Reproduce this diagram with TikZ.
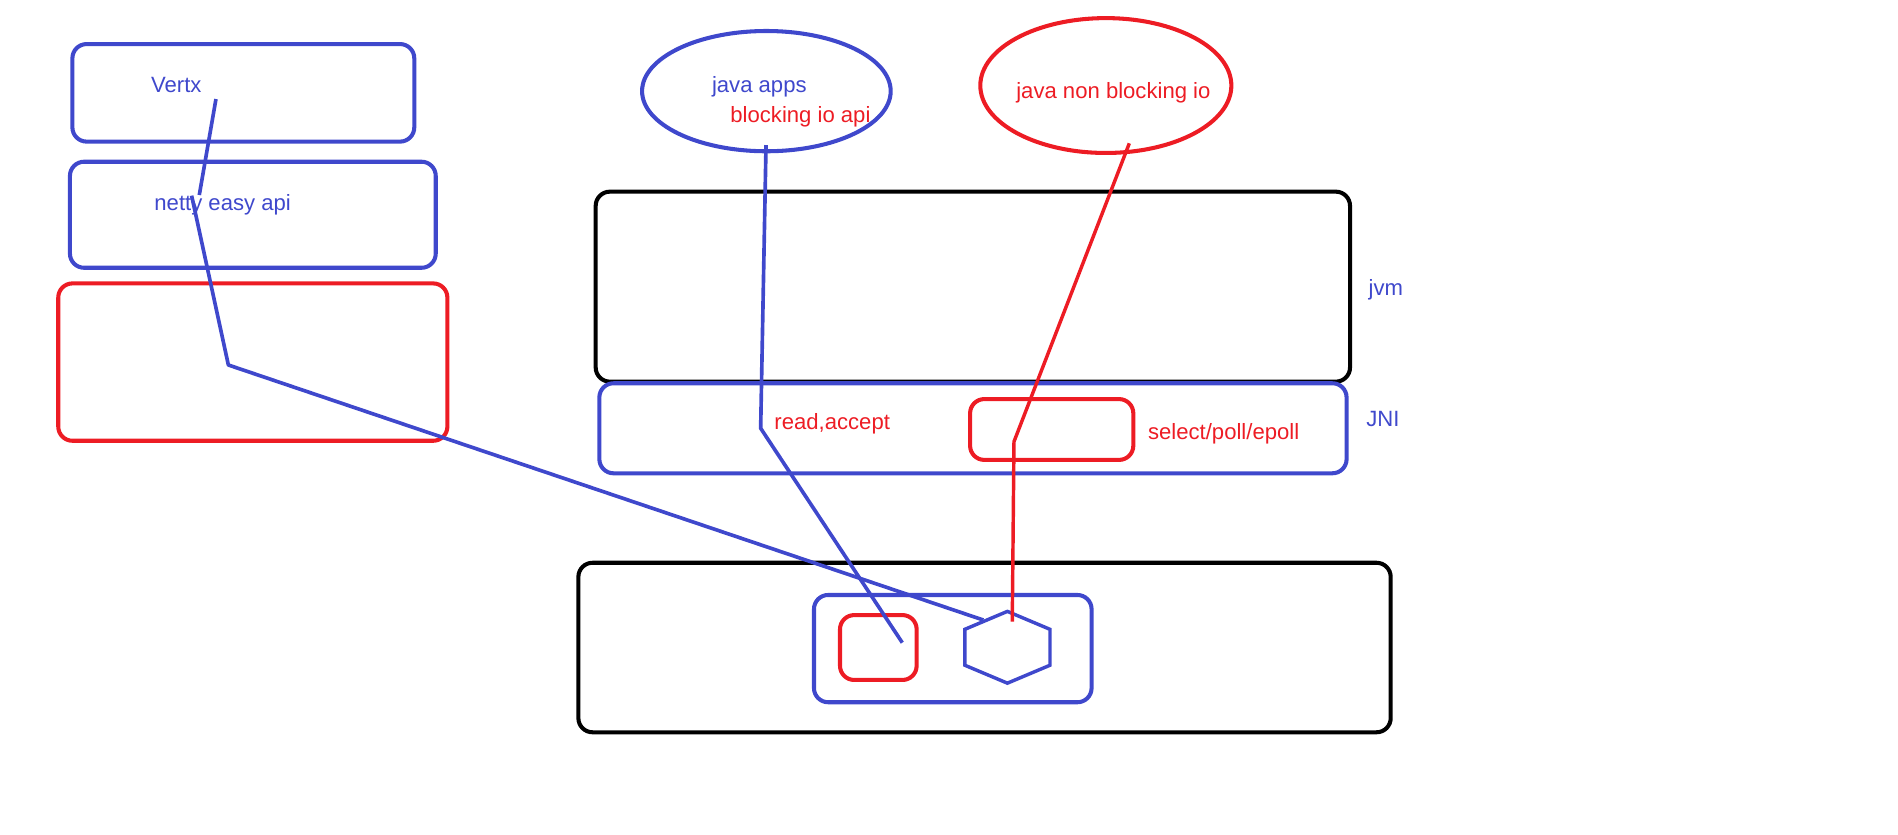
\documentclass[tikz,border=0pt]{standalone}
\usepackage{fontspec}
\setmainfont{Liberation Sans}
\usetikzlibrary{shapes.geometric}
\definecolor{paintblue}{RGB}{63,72,204}
\definecolor{paintred}{RGB}{237,28,36}

\begin{document}
\begin{tikzpicture}[x=0.6pt, y=-0.6pt,
		every node/.style={ inner sep=0pt,
				% labels sit on their baseline
				font=\fontsize{10.9}{13}\selectfont },
		bluebox/.style={draw=paintblue, line width=2pt, rounded corners=7pt},
		redbox/.style={draw=paintred, line width=2pt, rounded corners=7pt},
		blackbox/.style={draw=black, line width=2pt, rounded corners=7pt},
		blueell/.style={ellipse, draw=paintblue, line width=2pt},
		redell/.style={ellipse, draw=paintred, line width=2pt},
		hexa/.style={regular polygon, regular polygon sides=6, shape border rotate=30,
				draw=paintblue, line width=1.7pt, minimum size=48.5pt, yscale=0.73, transform shape},
		bluetxt/.style={text=paintblue, anchor=base west},
		redtxt/.style={text=paintred, anchor=base west},
		bluewire/.style={draw=paintblue, line width=1.8pt, line join=round},
		redwire/.style={draw=paintred, line width=1.7pt, line join=round} ]

	\useasboundingbox (0,0) rectangle (1560,685.5);

	\node[bluebox, minimum width=168.6pt, minimum height=48.1pt] (vertx) at (200,76.3) {};
	\node[bluebox, minimum width=180.4pt, minimum height=52.3pt] (netty) at (207.8,176.5) {};
	\node[redbox, minimum width=191.9pt, minimum height=77.6pt] (native) at (207.8,297.6) {};
	\node[bluetxt] (vertxlbl) at (123.9,75.9) {Vertx};
	\node[bluetxt] (nettylbl) at (126.6,173.4) {netty easy api};

	\node[blueell, minimum width=122.6pt, minimum height=59.3pt] (apps) at (629.9,74.9) {};
	\node[bluetxt] (appslbl) at (584.9,75.9) {java apps};
	\node[redtxt] (biolbl) at (600,100.5) {blocking io api};
	\node[redell, minimum width=123.8pt, minimum height=66.5pt] (nio) at (908.9,70.3) {};
	\node[redtxt] (niolbl) at (835,80.8) {java non blocking io};

	\node[blackbox, minimum width=372pt, minimum height=93.7pt] (jvm) at (799.6,235.6) {};
	\node[bluetxt] (jvmlbl) at (1124.6,242.5) {jvm};
	\node[bluebox, minimum width=368.5pt, minimum height=44.4pt] (jni) at (799.7,352) {};
	\node[bluetxt] (jnilbl) at (1122.7,350.7) {JNI};
	\node[redbox, minimum width=80.5pt, minimum height=30pt] (selbox) at (864.4,353) {};
	\node[redtxt] (sellbl) at (943.3,361.6) {select/poll/epoll};
	\node[redtxt] (readlbl) at (636.2,352.9) {read,accept};

	\node[blackbox, minimum width=400.6pt, minimum height=83.6pt] (os) at (809.2,532.2) {};
	\node[bluebox, minimum width=136.9pt, minimum height=52.9pt] (kernel) at (783.1,533.1) {};
	\node[redbox, minimum width=37.8pt, minimum height=32pt] (fd) at (721.9,532.2) {};
	\node[hexa] (hex) at (828,532) {};

	\coordinate (vtail) at (177.5,81.4);
	\coordinate (vbend1) at (163.8,160.3);
	\coordinate (vbend2) at (157.5,160.8);
	\coordinate (vbend3) at (187.7,300);
	\coordinate (vhead) at (808.2,509.6);
	\coordinate (btail) at (629.6,119.2);
	\coordinate (bbend) at (625.2,352);
	\coordinate (bhead) at (741.6,528.2);
	\coordinate (rtail) at (928.2,117.8);
	\coordinate (rbend) at (833.4,363);
	\coordinate (rhead) at (832,511);

	\draw[bluewire] (vtail) -- (vbend1);
	\draw[bluewire] (vbend2) -- (vbend3) -- (vhead);
	\draw[bluewire] (btail) -- (bbend) -- (bhead);
	\draw[redwire] (rtail) -- (rbend) -- (rhead);
\end{tikzpicture}
\end{document}
